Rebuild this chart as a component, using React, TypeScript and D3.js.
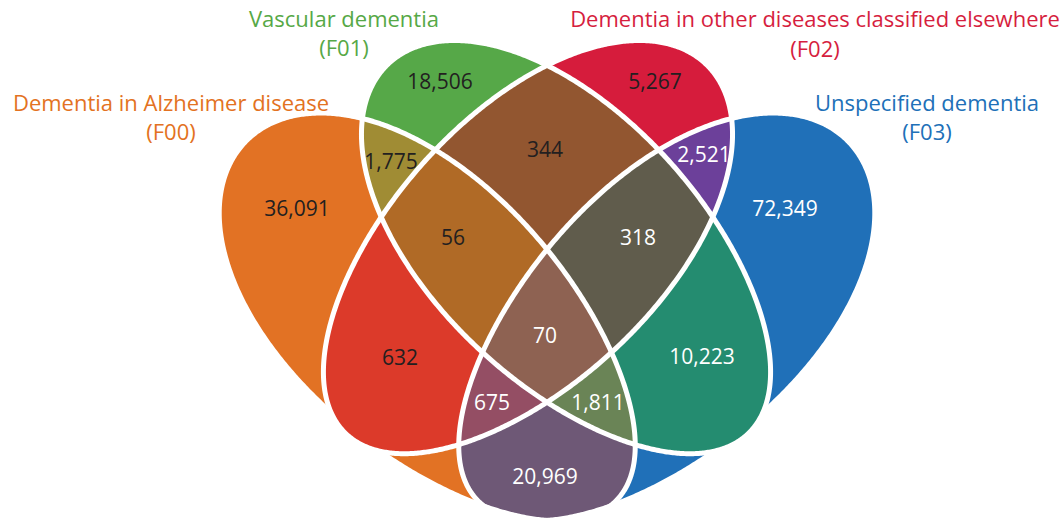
import React from "react";
import * as d3 from "d3";

const W = 1064;
const H = 521;

// sets: A = F00, B = F01, C = F02, D = F03
const setKeys = ["A", "B", "C", "D"];
const setNames = [
  "Dementia in Alzheimer disease",
  "Vascular dementia",
  "Dementia in other diseases classified elsewhere",
  "Unspecified dementia",
];
const setCodes = ["(F00)", "(F01)", "(F02)", "(F03)"];
const setColors = ["#E37222", "#56A846", "#D61E3E", "#2070B8"];

// one entry per region of the diagram
const regionSets = ["A", "B", "C", "D", "AB", "BC", "CD", "AC", "BD", "AD", "ABC", "BCD", "ACD", "ABD", "ABCD"];
const regionCounts = [36091, 18506, 5267, 72349, 1775, 344, 2521, 632, 10223, 20969, 56, 318, 675, 1811, 70];
const regionColors = [
  "#E27224", "#56A848", "#D61C3C", "#2070B8",
  "#A08C34", "#925630", "#6C409A", "#DC3A2A", "#248C70", "#6E5876",
  "#B06A26", "#605C4C", "#944E64", "#6A8456", "#8E6252",
];
const regionLight = [false, false, false, true, false, false, true, false, true, true, false, true, true, true, true];

// layout: where each count sits, and where the set titles go
const labelPos: [number, number][] = [
  [297, 209], [440, 82], [655, 82], [785, 209],
  [391, 162], [545, 150], [704, 155], [400, 358], [702, 357], [545, 477],
  [453, 238], [638, 238], [492, 403], [598, 403], [545, 336],
];
const titlePos: [number, number, number][] = [
  [171, 111, 140],
  [344, 27, 56],
  [815, 27, 57],
  [927, 111, 140],
];

// egg shaped outlines, rot points to the narrow end
const shapes = [
  { key: "A", cx: 431, cy: 321, a: 258, b: 135, k: 0.1, rot: 44 },
  { key: "B", cx: 568, cy: 249, a: 258, b: 134, k: 0.05, rot: 45.5 },
  { key: "C", cx: 526, cy: 249, a: 258, b: 134, k: 0.05, rot: 134.5 },
  { key: "D", cx: 663, cy: 321, a: 258, b: 135, k: 0.1, rot: 136 },
];

type Shape = typeof shapes[number];
type Pt = [number, number];

const eggPoints = (s: Shape, n = 720): Pt[] => {
  const th = (s.rot * Math.PI) / 180;
  const c = Math.cos(th), sn = Math.sin(th);
  return d3.range(n).map((i) => {
    const t = Math.PI + (2 * Math.PI * i) / n;
    const u = s.a * Math.cos(t);
    const v = s.b * Math.sin(t) * (1 - s.k * Math.cos(t));
    return [s.cx + u * c - v * sn, s.cy + u * sn + v * c] as Pt;
  });
};

const inside = (s: Shape, p: Pt) => {
  const th = (s.rot * Math.PI) / 180;
  const c = Math.cos(th), sn = Math.sin(th);
  const dx = p[0] - s.cx, dy = p[1] - s.cy;
  const u = dx * c + dy * sn;
  const v = -dx * sn + dy * c;
  if (Math.abs(u) >= s.a) return false;
  const h = s.b * Math.sqrt(1 - (u / s.a) ** 2) * (1 - (s.k * u) / s.a);
  return Math.abs(v) < h;
};

const byKey: Record<string, Shape> = {};
shapes.forEach((s) => (byKey[s.key] = s));
const pts: Record<string, Pt[]> = {};
shapes.forEach((s) => (pts[s.key] = eggPoints(s)));

// the tips of C and B poke a little past A and D; those bits are coloured as if inside
const extras: Record<string, { from: string; zone: (p: Pt) => boolean }> = {
  A: { from: "C", zone: (p) => p[0] < 470 && p[1] > 380 },
  D: { from: "B", zone: (p) => p[0] > 624 && p[1] > 380 },
};

const closed = d3.line().curve(d3.curveLinearClosed);
const shapePath: Record<string, string> = {};
const sliverPath: Record<string, string | null> = {};
setKeys.forEach((k) => {
  shapePath[k] = closed(pts[k]) as string;
  const ex = extras[k];
  if (ex) {
    const sl = pts[ex.from].filter((p) => ex.zone(p) && !inside(byKey[k], p));
    sliverPath[k] = sl.length > 2 ? (closed(sl) as string) : null;
  } else sliverPath[k] = null;
});

const outlinePath = (k: string) => {
  const ex = extras[k];
  const ring = [...pts[k], pts[k][0]];
  const line = d3
    .line<Pt>()
    .defined((p) => !(ex && ex.zone(p) && inside(byKey[ex.from], p)));
  return line(ring) as string;
};

const fmt = d3.format(",");
const font = "'Open Sans', 'Noto Sans', sans-serif";

export default function App() {
  const region = (i: number) => {
    const inc = regionSets[i].split("");
    const exc = setKeys.filter((k) => !inc.includes(k));
    let node: React.ReactNode = (
      <rect width={W} height={H} fill={regionColors[i]} mask={exc.length ? `url(#mask-${i})` : undefined} />
    );
    inc.forEach((k) => {
      node = <g clipPath={`url(#clip-${k})`}>{node}</g>;
    });
    return <g key={i}>{node}</g>;
  };

  return (
    <svg
      width={W}
      height={H}
      style={{ position: "absolute", left: 0, top: 0, background: "#fff" }}
      fontFamily={font}
    >
      <defs>
        {setKeys.map((k) => (
          <clipPath key={k} id={`clip-${k}`}>
            <path d={shapePath[k]} />
            {sliverPath[k] && <path d={sliverPath[k] as string} />}
          </clipPath>
        ))}
        {regionSets.map((r, i) => (
          <mask key={i} id={`mask-${i}`} maskUnits="userSpaceOnUse" x={0} y={0} width={W} height={H}>
            <rect width={W} height={H} fill="#fff" />
            {setKeys
              .filter((k) => !r.includes(k))
              .map((k) => (
                <g key={k}>
                  <path d={shapePath[k]} fill="#000" />
                  {sliverPath[k] && <path d={sliverPath[k] as string} fill="#000" />}
                </g>
              ))}
          </mask>
        ))}
      </defs>

      {regionSets.map((_, i) => region(i))}

      {setKeys.map((k) => (
        <path key={k} d={outlinePath(k)} fill="none" stroke="#fff" strokeWidth={5} strokeLinejoin="round" />
      ))}

      {regionCounts.map((v, i) => (
        <text
          key={i}
          x={labelPos[i][0]}
          y={labelPos[i][1]}
          dy="0.35em"
          textAnchor="middle"
          fontSize={21}
          fill={regionLight[i] ? "#fff" : "#231F20"}
        >
          {fmt(v)}
        </text>
      ))}

      {setNames.map((name, i) => (
        <g key={name} fill={setColors[i]} fontSize={22} textAnchor="middle">
          <text x={titlePos[i][0]} y={titlePos[i][1]}>{name}</text>
          <text x={titlePos[i][0]} y={titlePos[i][2]}>{setCodes[i]}</text>
        </g>
      ))}
    </svg>
  );
}
